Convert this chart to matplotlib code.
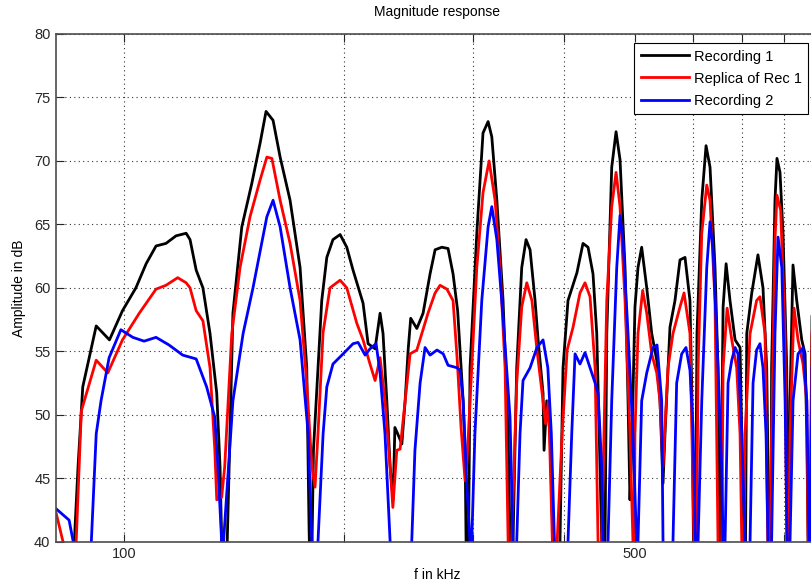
import matplotlib
matplotlib.use("Agg")
import matplotlib.pyplot as plt
from matplotlib.ticker import NullLocator, FixedLocator, FixedFormatter

plt.rcParams['font.family'] = ['Liberation Sans', 'DejaVu Sans']

# Recording 1 (black)
f_rec1 = [80.7, 85.5, 86.5, 87.8, 91.6, 95.5, 99.5, 103.8, 107.2, 110.6, 114.1, 117.8, 121.6,
          123.1, 125.5, 128.2, 131.1, 133.9, 135.3, 136.0, 137.9, 138.4, 139.6, 140.9, 144.9,
          149.5, 153.5, 156.4, 159.9, 163.5, 168.7, 174.1, 177.8, 179.1, 180.0, 180.8, 181.6,
          186.4, 189.4, 193.1, 197.5, 201.7, 205.7, 212.3, 215.7, 220.5, 224.0, 226.1, 228.8,
          231.2, 233.4, 234.7, 236.8, 239.9, 242.4, 244.7, 246.7, 251.5, 256.5, 262.2, 266.4,
          272.1, 277.5, 281.9, 286.0, 291.0, 292.8, 293.7, 295.1, 296.0, 297.4, 303.8, 309.8,
          314.8, 318.5, 323.6, 330.0, 335.3, 337.3, 338.9, 340.5, 344.5, 350.0, 354.8, 359.3,
          365.0, 368.5, 374.3, 375.5, 378.7, 382.6, 386.2, 389.9, 394.8, 398.6, 404.9, 410.1,
          416.5, 424.5, 431.3, 438.1, 443.3, 447.9, 450.3, 452.6, 455.0, 457.5, 464.7, 471.1,
          477.0, 484.6, 489.2, 492.2, 494.9, 500.0, 504.8, 510.7, 518.9, 527.1, 535.5, 541.0,
          546.2, 549.6, 558.3, 567.2, 576.2, 585.4, 594.6, 598.4, 601.2, 603.1, 605.0, 607.9,
          617.1, 625.5, 633.4, 643.4, 649.5, 653.7, 655.3, 657.2, 660.0, 666.3, 674.5, 685.4,
          696.2, 700.0, 702.9, 705.1, 708.4, 711.1, 722.4, 736.6, 748.4, 757.2, 762.6, 765.0,
          767.4, 769.0, 777.2, 782.1, 789.6, 797.1, 806.5, 809.8, 812.3, 814.9, 822.6, 832.3,
          845.6, 854.5, 859.1, 862.6, 865.4, 867.7, 873.2, 881.5]
a_rec1 = [35, 40, 45.9, 52.2, 57.0, 55.9, 58.2, 60.0, 61.9, 63.3, 63.5, 64.1, 64.3,
          63.8, 61.4, 60.0, 56.4, 51.7, 45.9, 40, 30, 40, 48.5, 58.0, 64.8,
          68.2, 71.4, 73.9, 73.2, 70.3, 66.9, 61.6, 53.7, 41.1, 35, 40, 47.2,
          59.0, 62.4, 63.8, 64.2, 63.2, 61.4, 58.8, 55.6, 55.2, 58.0, 56.4, 51.1,
          45.9, 43.3, 49.0, 48.5, 47.7, 51.1, 55.1, 57.6, 56.8, 58.0, 61.1, 63.0,
          63.2, 63.1, 61.1, 58.2, 51.1, 47.2, 40, 35, 40, 53.7, 64.3, 72.2,
          73.1, 71.9, 66.9, 59.0, 48.5, 40, 35, 40, 53.7, 61.6, 63.8, 63.0,
          59.0, 55.9, 51.7, 47.2, 51.1, 48.5, 40, 35, 40, 53.7, 59.0, 60.0,
          61.2, 63.5, 63.2, 61.1, 56.4, 45.9, 40, 35, 40, 56.4, 69.5, 72.3,
          70.1, 61.6, 51.1, 43.3, 47.2, 58.5, 61.6, 63.2, 60.0, 56.4, 54.3, 51.1,
          44.6, 48.5, 56.9, 59.0, 62.2, 62.4, 59.0, 51.1, 40, 35, 40, 56.4,
          66.9, 71.2, 69.5, 61.6, 53.7, 40, 35, 48.5, 58.5, 61.9, 59.0, 55.9,
          55.3, 48.5, 40.6, 35, 40, 56.4, 59.6, 62.6, 60.0, 53.7, 40, 35,
          40, 53.7, 66.9, 70.2, 69.1, 64.3, 53.7, 40, 35, 51.1, 61.8, 59.0,
          55.9, 54.8, 48.5, 40, 35, 40, 57.7, 60.0]

# Replica of Rec 1 (red)
f_rep1 = [80.7, 82.5, 83.9, 86.0, 87.4, 91.6, 95.0, 99.5, 104.9, 110.6, 114.1, 118.4, 121.6,
          123.1, 125.5, 128.2, 131.1, 133.1, 133.9, 136.0, 137.3, 140.4, 144.1, 148.7, 153.5,
          156.8, 159.3, 163.5, 168.7, 174.1, 177.8, 180.7, 182.5, 184.2, 187.2, 191.3, 197.5,
          201.7, 208.2, 212.3, 217.0, 220.5, 224.0, 227.5, 231.2, 233.2, 236.1, 238.6, 242.4,
          246.2, 251.5, 255.5, 260.5, 266.4, 270.6, 276.5, 281.9, 285.5, 289.1, 292.8, 294.6,
          299.0, 303.8, 309.8, 315.8, 321.8, 326.9, 332.1, 335.3, 337.3, 339.1, 344.5, 350.0,
          355.6, 361.4, 367.2, 373.2, 377.2, 380.8, 385.2, 388.0, 391.3, 397.5, 403.8, 411.4,
          420.5, 427.2, 434.0, 441.0, 445.1, 447.9, 450.3, 457.5, 464.7, 471.1, 477.0, 484.6,
          492.2, 496.9, 498.5, 500.0, 504.8, 512.3, 518.9, 527.1, 535.5, 541.0, 546.2, 554.8,
          563.6, 576.2, 583.6, 594.6, 602.2, 604.1, 607.0, 610.0, 617.1, 626.9, 633.4, 643.4,
          649.5, 652.6, 657.2, 660.0, 668.4, 678.3, 688.9, 696.2, 700.0, 702.9, 705.1, 707.3,
          718.5, 733.5, 741.3, 753.2, 759.7, 762.6, 765.7, 769.0, 777.2, 782.1, 791.3, 802.2,
          806.4, 809.8, 812.3, 814.9, 825.3, 835.7, 849.0, 859.1, 862.6, 866.4, 869.0, 873.2,
          881.5]
a_rep1 = [42.3, 40, 35, 40, 50.3, 54.3, 53.3, 55.9, 58.0, 59.9, 60.2, 60.8, 60.4,
          60.0, 58.2, 57.4, 53.7, 47.2, 43.3, 43.5, 45.9, 56.4, 61.6, 65.6, 68.5,
          70.3, 70.2, 66.9, 63.5, 59.0, 52.5, 45.9, 44.3, 48.5, 56.5, 60.0, 60.6,
          60.0, 57.2, 55.9, 54.0, 52.7, 54.5, 51.1, 45.9, 42.7, 47.2, 47.3, 51.1,
          54.8, 55.1, 56.4, 58.0, 59.6, 60.2, 59.9, 59.0, 54.5, 49.0, 44.8, 46.4,
          53.7, 61.6, 67.5, 70.0, 66.9, 61.6, 53.7, 40, 35, 40, 52.5, 58.5,
          60.4, 59.0, 55.1, 51.7, 49.3, 51.1, 40.6, 35, 40, 48.5, 55.1, 56.9,
          59.6, 60.4, 59.3, 53.7, 40, 35, 40, 59.0, 66.4, 69.1, 66.4, 59.0,
          48.5, 40, 37, 48.5, 56.4, 59.8, 58.0, 54.8, 53.3, 51.1, 45.9, 53.7,
          56.4, 58.5, 59.6, 56.4, 40, 35, 40, 53.7, 64.3, 68.1, 66.9, 59.0,
          40, 35, 40, 53.7, 58.4, 55.9, 53.7, 48.5, 40, 35, 40, 48.5,
          56.4, 59.0, 59.3, 56.4, 40, 35, 40, 48.5, 63.8, 67.3, 66.1, 56.4,
          40, 35, 40, 48.5, 58.4, 55.9, 54.0, 51.1, 40, 35, 40, 56.4,
          58.0]

# Recording 2 (blue)
f_rec2 = [80.7, 84.1, 85.2, 87.6, 90.2, 91.6, 93.0, 95.4, 99.0, 102.8, 106.5, 110.6, 115.2,
          120.3, 125.5, 129.7, 133.1, 134.4, 136.0, 136.4, 136.8, 138.2, 140.9, 145.5, 150.1,
          156.8, 159.9, 163.5, 168.7, 174.1, 178.6, 180.7, 182.5, 184.2, 187.2, 189.4, 193.1,
          199.4, 205.7, 209.0, 213.7, 217.0, 221.2, 224.0, 227.5, 231.2, 238.6, 247.5, 250.0,
          254.1, 258.1, 262.2, 268.0, 273.3, 277.5, 285.6, 288.2, 291.0, 294.3, 297.4, 298.1,
          299.0, 302.0, 308.6, 314.8, 318.5, 323.6, 330.0, 337.3, 340.5, 342.5, 344.5, 348.1,
          351.4, 359.3, 367.2, 374.3, 380.0, 384.2, 388.0, 396.1, 404.9, 409.7, 414.0, 420.5,
          427.2, 434.0, 441.0, 445.1, 450.3, 452.2, 455.7, 459.3, 464.7, 472.1, 477.0, 481.5,
          489.2, 496.9, 502.5, 503.5, 504.8, 510.7, 518.9, 529.3, 536.0, 543.9, 546.2, 554.8,
          563.6, 570.2, 579.3, 587.2, 594.6, 600.3, 605.0, 607.0, 610.0, 617.1, 626.9, 633.4,
          639.5, 649.5, 657.2, 659.9, 662.0, 664.1, 670.4, 678.3, 685.4, 691.8, 700.0, 707.3,
          712.8, 718.5, 725.3, 733.5, 741.3, 748.4, 755.6, 760.4, 765.0, 769.0, 777.2, 784.7,
          794.1, 802.4, 807.5, 811.2, 814.9, 822.7, 835.8, 849.3, 859.1, 865.4, 867.7, 873.2,
          881.5]
a_rec2 = [42.6, 41.7, 40, 35, 40, 48.5, 51.1, 54.5, 56.7, 56.1, 55.8, 56.1, 55.5,
          54.7, 54.4, 52.2, 49.8, 45.9, 40, 35, 40, 43.8, 51.1, 56.4, 60.0,
          65.6, 66.9, 64.8, 60.0, 55.9, 48.5, 40, 35, 40, 48.5, 52.2, 54.0,
          54.8, 55.6, 55.7, 54.7, 55.2, 55.6, 53.3, 48.5, 40, 30, 40, 47.2,
          52.5, 55.3, 54.7, 55.1, 54.8, 53.9, 53.7, 53.5, 51.1, 44.6, 40, 35,
          40, 48.5, 59.0, 64.8, 66.4, 63.8, 57.7, 49.8, 40, 35, 40, 48.5,
          52.7, 53.7, 55.3, 55.9, 53.7, 48.5, 40, 30, 40, 48.5, 54.8, 54.0,
          54.9, 53.7, 52.5, 51.7, 45.9, 40, 35, 40, 51.1, 61.6, 65.7, 63.8,
          56.4, 48.5, 40, 35, 40, 51.1, 53.3, 55.3, 55.5, 51.1, 40, 30,
          40, 52.5, 54.8, 55.3, 53.5, 49.0, 40, 35, 40, 51.1, 61.6, 65.2,
          63.0, 53.7, 45.9, 40, 35, 40, 52.5, 54.3, 55.3, 54.8, 48.5, 40,
          30, 40, 52.5, 55.1, 55.6, 53.7, 48.5, 40, 35, 40, 56.4, 64.0,
          61.6, 51.1, 40, 35, 40, 51.1, 54.8, 55.3, 51.1, 40, 35, 53.7,
          55.0]

x_ticks = [100, 200, 300, 400, 500, 600, 700, 800]
x_ticklabels = ['100', '', '', '', '500', '', '', '']
y_ticks = [40, 45, 50, 55, 60, 65, 70, 75, 80]

fig = plt.figure(figsize=(8.12, 5.81), dpi=100)
# the right edge of the axes lies just outside the picture, as in the original crop
ax = fig.add_axes([56 / 812, 39.3 / 581, 762 / 812, 507.7 / 581])

ax.plot(f_rec1, a_rec1, color='black', lw=2.0, label='Recording 1')
ax.plot(f_rep1, a_rep1, color='#ff0000', lw=2.0, label='Replica of Rec 1')
ax.plot(f_rec2, a_rec2, color='#0000ff', lw=2.0, label='Recording 2')

ax.set_xscale('log')
ax.set_xlim(80.7, 890)
ax.set_ylim(40, 80)
ax.xaxis.set_major_locator(FixedLocator(x_ticks))
ax.xaxis.set_major_formatter(FixedFormatter(x_ticklabels))
ax.xaxis.set_minor_locator(NullLocator())
ax.set_yticks(y_ticks)

ax.grid(True, color='0.2', linestyle=(0, (1, 3)), linewidth=0.8)
ax.tick_params(direction='in', top=True, right=True, length=6, width=0.8,
               labelsize=10.5, colors='0.15', pad=4)
for s in ax.spines.values():
    s.set_color('0.3')
    s.set_linewidth(1.2)

ax.set_title('Magnitude response', fontsize=10, pad=13)
ax.set_xlabel('f in kHz', fontsize=10, labelpad=5)
ax.set_ylabel('Amplitude in dB', fontsize=10, labelpad=6)

leg = ax.legend(loc='upper left', bbox_to_anchor=(634 / 812, 1 - 43 / 581),
                bbox_transform=fig.transFigure, borderaxespad=0, fancybox=False,
                edgecolor='black', framealpha=1, fontsize=10.5, handlelength=3.3,
                handletextpad=0.35, borderpad=0.45, labelspacing=0.55)
leg.get_frame().set_linewidth(0.8)
for line in leg.get_lines():
    line.set_linewidth(2.0)

fig.savefig('out.png', dpi=100)
